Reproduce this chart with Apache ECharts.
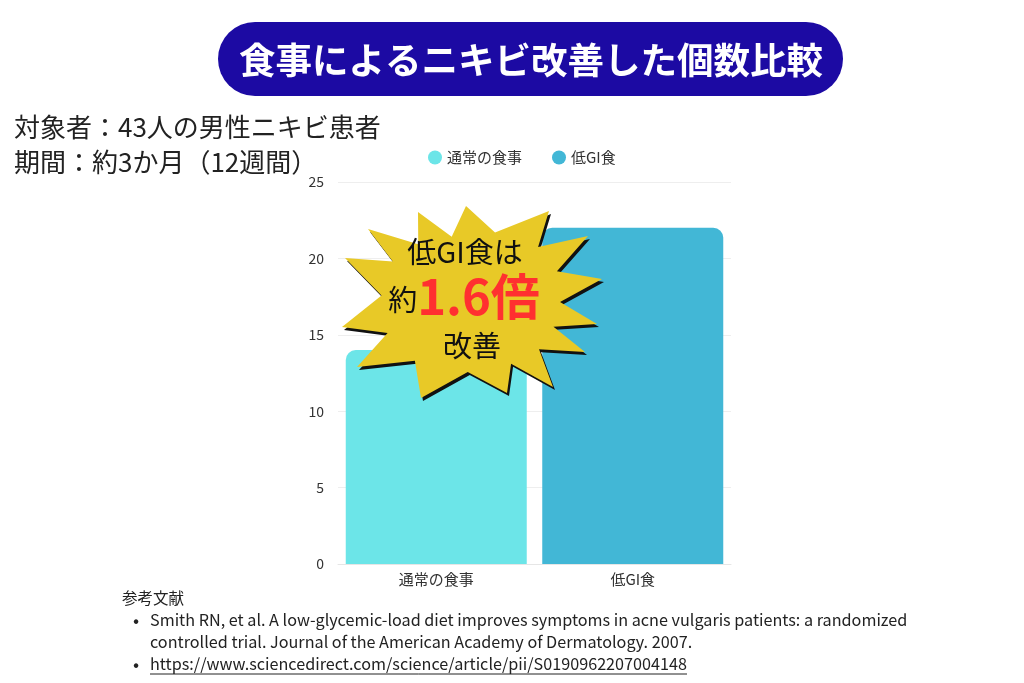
<!DOCTYPE html>
<html>
<head>
<meta charset="utf-8">
<script src="https://cdn.jsdelivr.net/npm/echarts@6/dist/echarts.min.js"></script>
<style>
  html, body { margin: 0; padding: 0; background: #fff; }
  #chart { width: 1024px; height: 683px; }
</style>
</head>
<body>
<div id="chart"></div>
<script>
  // 食事別のニキビ改善個数
  var categories = ['通常の食事', '低GI食'];
  var normalDiet = [14, null];
  var lowGiDiet = [null, 22];
  var seriesNames = ['通常の食事', '低GI食'];

  var FONT = '"Noto Sans CJK JP", "Noto Sans", sans-serif';

  // 吹き出し(ギザギザ)の頂点
  var starCenter = [472, 302];
  var starTips = [
    [368, 229], [418, 212], [466, 206], [549, 211], [588, 236], [602, 279],
    [597, 324], [585, 352], [553, 387], [507, 393], [421, 398], [357, 367],
    [342, 327], [345, 258]
  ];
  function starPoints(dx, dy) {
    var pts = [];
    var cx = starCenter[0], cy = starCenter[1];
    for (var i = 0; i < starTips.length; i++) {
      var a = starTips[i], b = starTips[(i + 1) % starTips.length];
      var ra = Math.hypot(a[0] - cx, a[1] - cy);
      var rb = Math.hypot(b[0] - cx, b[1] - cy);
      var angA = Math.atan2(a[1] - cy, a[0] - cx);
      var angB = Math.atan2(b[1] - cy, b[0] - cx);
      if (angB < angA) angB += Math.PI * 2;
      var mid = (angA + angB) / 2;
      var r = (ra + rb) / 2 * 0.68;
      pts.push([a[0] + dx, a[1] + dy]);
      pts.push([cx + r * Math.cos(mid) + dx, cy + r * Math.sin(mid) + dy]);
    }
    return pts;
  }

  var chart = echarts.init(document.getElementById('chart'));
  var option = {
    backgroundColor: '#fff',
    textStyle: { fontFamily: FONT },
    legend: {
      top: 145,
      left: 423,
      itemGap: 30,
      icon: 'circle',
      itemWidth: 14,
      itemHeight: 14,
      textStyle: { fontSize: 15, color: '#333', fontFamily: FONT },
      data: seriesNames
    },
    grid: { left: 338, right: 293, top: 182, bottom: 119 },
    xAxis: {
      type: 'category',
      data: categories,
      axisTick: { show: false },
      axisLine: { lineStyle: { color: '#e6e6e6' } },
      axisLabel: { fontSize: 15, color: '#333', margin: 8, fontFamily: FONT }
    },
    yAxis: {
      type: 'value',
      min: 0,
      max: 25,
      interval: 5,
      axisLabel: { fontSize: 14, color: '#333', margin: 14, fontFamily: FONT },
      splitLine: { lineStyle: { color: '#eeeeee' } }
    },
    series: [
      {
        name: seriesNames[0],
        type: 'bar',
        stack: 'total',
        data: normalDiet,
        barWidth: 181,
        itemStyle: { color: '#6ce5e8', borderRadius: [10, 10, 0, 0] }
      },
      {
        name: seriesNames[1],
        type: 'bar',
        stack: 'total',
        data: lowGiDiet,
        barWidth: 181,
        itemStyle: { color: '#42b7d6', borderRadius: [10, 10, 0, 0] }
      }
    ],
    graphic: [
      {
        type: 'rect',
        z: 100,
        shape: { x: 218, y: 22, width: 625, height: 74, r: 37 },
        style: { fill: '#1c0aa3' }
      },
      {
        type: 'text',
        z: 101,
        style: {
          text: '食事によるニキビ改善した個数比較',
          x: 531, y: 60,
          textAlign: 'center', textVerticalAlign: 'middle',
          fill: '#fff', font: 'bold 36.5px ' + FONT
        }
      },
      {
        type: 'text',
        z: 100,
        style: {
          text: '対象者：43人の男性ニキビ患者',
          x: 14, y: 127,
          textVerticalAlign: 'middle',
          fill: '#222', font: '26px ' + FONT
        }
      },
      {
        type: 'text',
        z: 100,
        style: {
          text: '期間：約3か月（12週間）',
          x: 14, y: 162,
          textVerticalAlign: 'middle',
          fill: '#222', font: '26px ' + FONT
        }
      },
      // 吹き出し
      {
        type: 'polygon',
        z: 110,
        shape: { points: starPoints(2, 3) },
        style: { fill: '#111' }
      },
      {
        type: 'polygon',
        z: 111,
        shape: { points: starPoints(0, 0) },
        style: { fill: '#e8c927' }
      },
      {
        type: 'text',
        z: 112,
        style: {
          text: '低GI食は',
          x: 465, y: 252,
          textAlign: 'center', textVerticalAlign: 'middle',
          fill: '#111', font: '29px ' + FONT
        }
      },
      {
        type: 'text',
        z: 112,
        style: {
          text: '{a|約}{b|1.6倍}',
          x: 464, y: 296,
          textAlign: 'center', textVerticalAlign: 'middle',
          rich: {
            a: { fontSize: 29, fontFamily: FONT, fill: '#111', color: '#111', padding: [8, 0, 0, 0] },
            b: { fontSize: 49, fontWeight: 'bold', fontFamily: FONT, fill: '#ff3030', color: '#ff3030' }
          }
        }
      },
      {
        type: 'text',
        z: 112,
        style: {
          text: '改善',
          x: 472, y: 346,
          textAlign: 'center', textVerticalAlign: 'middle',
          fill: '#111', font: '29px ' + FONT
        }
      },
      // 参考文献
      {
        type: 'text',
        z: 100,
        style: {
          text: '参考文献',
          x: 122, y: 598,
          textVerticalAlign: 'middle',
          fill: '#222', font: '15.5px ' + FONT
        }
      },
      {
        type: 'text', z: 100,
        style: { text: '•', x: 133, y: 620, textVerticalAlign: 'middle', fill: '#222', font: '18px ' + FONT }
      },
      {
        type: 'text', z: 100,
        style: {
          text: 'Smith RN, et al. A low-glycemic-load diet improves symptoms in acne vulgaris patients: a randomized',
          x: 150, y: 620, textVerticalAlign: 'middle', fill: '#222', font: '16.2px ' + FONT
        }
      },
      {
        type: 'text', z: 100,
        style: {
          text: 'controlled trial. Journal of the American Academy of Dermatology. 2007.',
          x: 150, y: 642, textVerticalAlign: 'middle', fill: '#222', font: '16.2px ' + FONT
        }
      },
      {
        type: 'text', z: 100,
        style: { text: '•', x: 133, y: 664, textVerticalAlign: 'middle', fill: '#222', font: '18px ' + FONT }
      },
      {
        type: 'text', z: 100,
        style: {
          text: 'https://www.sciencedirect.com/science/article/pii/S0190962207004148',
          x: 150, y: 664, textVerticalAlign: 'middle', fill: '#222', font: '16.2px ' + FONT
        }
      },
      {
        type: 'line', z: 100,
        shape: { x1: 150, y1: 674, x2: 687, y2: 674 },
        style: { stroke: '#222', lineWidth: 1 }
      }
    ]
  };
  chart.setOption(option);

  window.addEventListener('resize', function () {
    chart.resize();
  });
</script>
</body>
</html>
